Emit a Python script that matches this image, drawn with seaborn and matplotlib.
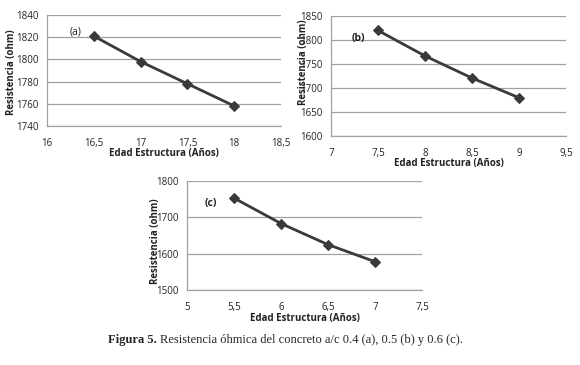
import matplotlib
matplotlib.use("Agg")
import matplotlib.pyplot as plt
import seaborn as sns
import pandas as pd

# datos
edad_a = [16.5, 17, 17.5, 18]
resist_a = [1821, 1798, 1778, 1758]
edad_b = [7.5, 8, 8.5, 9]
resist_b = [1820, 1767, 1721, 1680]
edad_c = [5.5, 6, 6.5, 7]
resist_c = [1753, 1683, 1625, 1578]

xticks_a = [16, 16.5, 17, 17.5, 18, 18.5]
yticks_a = [1740, 1760, 1780, 1800, 1820, 1840]
xticks_b = [7, 7.5, 8, 8.5, 9, 9.5]
yticks_b = [1600, 1650, 1700, 1750, 1800, 1850]
xticks_c = [5, 5.5, 6, 6.5, 7, 7.5]
yticks_c = [1500, 1600, 1700, 1800]

sns.set_style("white")
plt.rcParams['font.family'] = ['Open Sans', 'DejaVu Sans']

LINE = '#3a3a3a'
GRID = '#a0a0a0'

fig = plt.figure(figsize=(5.8, 3.65), dpi=100)

panels = [
    # rect, x, y, xticks, yticks, label, label pos, bold, ylabel pos, xlabel pos
    ([0.081, 0.655, 0.4035, 0.304], edad_a, resist_a, xticks_a, yticks_a,
     "(a)", (16.24, 1825), False, (-0.15, 0.48), (0.5, -0.25)),
    ([0.5707, 0.627, 0.405, 0.329], edad_b, resist_b, xticks_b, yticks_b,
     "(b)", (7.22, 1804), True, (-0.118, 0.62), (0.5, -0.23)),
    ([0.3224, 0.2055, 0.405, 0.2986], edad_c, resist_c, xticks_c, yticks_c,
     "(c)", (5.19, 1739), True, (-0.135, 0.45), (0.5, -0.265)),
]


def fmt(v):
    s = ("%g" % v)
    return s.replace(".", ",")


for rect, xs, ys, xt, yt, lab, labpos, labbold, ylpos, xlpos in panels:
    ax = fig.add_axes(rect)
    df = pd.DataFrame({"x": xs, "y": ys})
    sns.lineplot(data=df, x="x", y="y", ax=ax, color=LINE, linewidth=2.0,
                 marker="D", markersize=5, markeredgecolor=LINE)
    ax.set_xlim(xt[0], xt[-1])
    ax.set_ylim(yt[0], yt[-1])
    ax.set_xticks(xt)
    ax.set_xticklabels([fmt(v) for v in xt])
    ax.set_yticks(yt)
    ax.set_yticklabels([fmt(v) for v in yt])
    ax.yaxis.grid(True, color=GRID, linewidth=0.9)
    ax.xaxis.grid(False)
    for s in ["top", "right"]:
        ax.spines[s].set_visible(False)
    for s in ["left", "bottom"]:
        ax.spines[s].set_color(GRID)
        ax.spines[s].set_linewidth(0.9)
    ax.tick_params(axis="both", labelsize=7, colors="#222222", length=3,
                   width=0.8, pad=3)
    ax.tick_params(axis="x", direction="inout", color=GRID, pad=7)
    ax.tick_params(axis="y", direction="out", color=GRID)
    ax.set_xlabel("")
    ax.set_ylabel("")
    ax.text(ylpos[0], ylpos[1], "Resistencia (ohm)", transform=ax.transAxes,
            rotation=90, ha="center", va="center", fontsize=7,
            fontweight="bold", color="#222222")
    ax.text(xlpos[0], xlpos[1], "Edad Estructura (Años)",
            transform=ax.transAxes, ha="center", va="center", fontsize=7,
            fontweight="bold", color="#222222")
    ax.text(labpos[0], labpos[1], lab, fontsize=7.5,
            fontweight="bold" if labbold else "normal", color="#222222",
            ha="left", va="center")
    ax.set_facecolor("white")

cap_y = 1 - 340 / 365
cap_x = 108 / 580
fig.text(cap_x, cap_y, "Figura 5.", family="Liberation Serif",
         fontweight="bold", fontsize=9, ha="left", va="center")
fig.text(cap_x + 0.0895, cap_y,
         "Resistencia óhmica del concreto a/c 0.4 (a), 0.5 (b) y 0.6 (c).",
         family="Liberation Serif", fontsize=9, ha="left", va="center")

fig.savefig("out.png", dpi=100, facecolor="white")
